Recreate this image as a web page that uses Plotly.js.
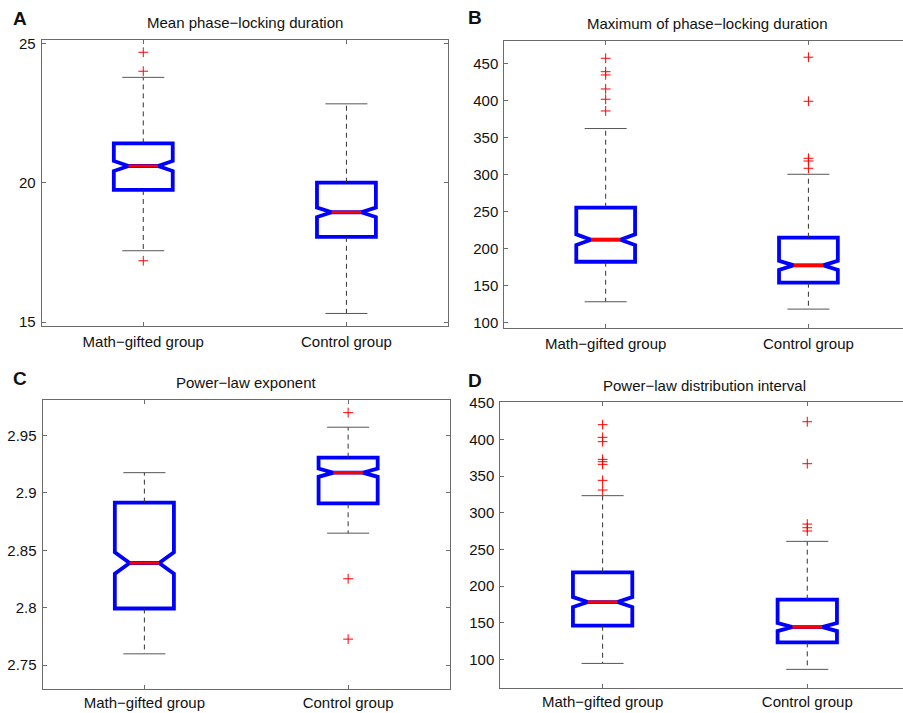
<!DOCTYPE html>
<html>
<head>
<meta charset="utf-8">
<script src="https://cdn.plot.ly/plotly-3.0.1.min.js"></script>
<style>
html, body { margin: 0; padding: 0; overflow: hidden; background: #fff; }
#chart { width: 912px; height: 713px; }
</style>
</head>
<body>
<div id="chart"></div>
<script>
// ---------- data ----------
const categories = ['Math\u2212gifted group', 'Control group'];

// A: Mean phase-locking duration
const meanTitle = 'Mean phase\u2212locking duration';
const meanLowerWhisker = [17.56, 15.31];
const meanQ1 = [19.74, 18.06];
const meanMedian = [20.60, 18.94];
const meanQ3 = [21.41, 20.00];
const meanUpperWhisker = [23.78, 22.83];
const meanNotch = [0.18, 0.17];
const meanOutliersMath = [24.68, 24.00, 17.20];
const meanOutliersControl = [];
const meanTicks = [15, 20, 25];

// B: Maximum of phase-locking duration
const maxTitle = 'Maximum of phase\u2212locking duration';
const maxLowerWhisker = [128.3, 118.4];
const maxQ1 = [182.3, 154.0];
const maxMedian = [212.0, 177.4];
const maxQ3 = [255.2, 214.7];
const maxUpperWhisker = [362.0, 300.3];
const maxNotch = [7.2, 6.0];
const maxOutliersMath = [456.8, 438.7, 434.3, 415.4, 401.5, 385.7];
const maxOutliersControl = [458.2, 398.8, 321.9, 318.2, 308.4];
const maxTicks = [100, 150, 200, 250, 300, 350, 400, 450];

// C: Power-law exponent
const expTitle = 'Power\u2212law exponent';
const expLowerWhisker = [2.7599, 2.8650];
const expQ1 = [2.7994, 2.8910];
const expMedian = [2.8390, 2.9177];
const expQ3 = [2.8916, 2.9308];
const expUpperWhisker = [2.9177, 2.9573];
const expNotch = [0.0093, 0.0036];
const expOutliersMath = [];
const expOutliersControl = [2.9700, 2.8253, 2.7727];
const expTicks = [2.75, 2.8, 2.85, 2.9, 2.95];
const expTickText = ['2.75', '2.8', '2.85', '2.9', '2.95'];

// D: Power-law distribution interval
const intTitle = 'Power\u2212law distribution interval';
const intLowerWhisker = [94.5, 86.4];
const intQ1 = [145.9, 123.2];
const intMedian = [178.2, 144.1];
const intQ3 = [218.6, 181.4];
const intUpperWhisker = [323.2, 260.9];
const intNotch = [6.8, 5.5];
const intOutliersMath = [420.0, 402.7, 396.8, 372.7, 369.5, 365.9, 344.1, 330.9];
const intOutliersControl = [424.0, 366.8, 284.5, 279.5, 275.0];
const intTicks = [100, 150, 200, 250, 300, 350, 400, 450];

// ---------- layout helpers ----------
const W = 912, H = 713;
const FONT = '"Liberation Sans", Arial, Helvetica, sans-serif';
const AX = '#6b6b6b';
const BOXW = 0.29;

function dom(px0, px1) { return [px0 / W, px1 / W]; }
function domY(top, bottom) { return [(H - bottom) / H, (H - top) / H]; }

const traces = [];
function panel(n, lw, q1, med, q3, uw, notch, outM, outC) {
  const xa = 'x' + (n === 1 ? '' : n), ya = 'y' + (n === 1 ? '' : n);
  // dashed whiskers
  const wx = [], wy = [];
  for (let i = 0; i < categories.length; i++) {
    wx.push(categories[i], categories[i], null, categories[i], categories[i], null);
    wy.push(q3[i], uw[i], null, q1[i], lw[i], null);
  }
  traces.push({type: 'scatter', mode: 'lines', x: wx, y: wy, xaxis: xa, yaxis: ya,
    line: {color: '#333', width: 1, dash: '5px,4px'}, hoverinfo: 'skip', connectgaps: false});
  // whisker caps
  traces.push({type: 'scatter', mode: 'markers', x: categories.concat(categories), y: uw.concat(lw),
    xaxis: xa, yaxis: ya, hoverinfo: 'skip',
    marker: {symbol: 'line-ew', size: 30, color: '#555', line: {color: '#555', width: 1}}});
  // blue notched boxes
  traces.push({type: 'box', x: categories, q1: q1, median: med, q3: q3,
    lowerfence: q1, upperfence: q3, notched: true, notchspan: notch, notchwidth: 0.25,
    width: BOXW, whiskerwidth: 0, boxpoints: false, xaxis: xa, yaxis: ya,
    line: {color: '#0000ff', width: 3.8}, fillcolor: 'rgba(255,255,255,0)', hoverinfo: 'skip'});
  // red medians
  traces.push({type: 'box', x: categories, q1: med, median: med, q3: med,
    lowerfence: med, upperfence: med, notched: false,
    width: BOXW * 0.5, whiskerwidth: 0, boxpoints: false, xaxis: xa, yaxis: ya,
    line: {color: '#ff0000', width: 3.2}, fillcolor: 'rgba(255,255,255,0)', hoverinfo: 'skip'});
  // outliers
  const ox = [], oy = [];
  outM.forEach(v => { ox.push(categories[0]); oy.push(v); });
  outC.forEach(v => { ox.push(categories[1]); oy.push(v); });
  traces.push({type: 'scatter', mode: 'markers', x: ox, y: oy, xaxis: xa, yaxis: ya, hoverinfo: 'skip',
    marker: {symbol: 'cross-thin-open', size: 7, color: '#ff0000', line: {color: '#ff0000', width: 1}}});
}

panel(1, meanLowerWhisker, meanQ1, meanMedian, meanQ3, meanUpperWhisker, meanNotch, meanOutliersMath, meanOutliersControl);
panel(2, maxLowerWhisker, maxQ1, maxMedian, maxQ3, maxUpperWhisker, maxNotch, maxOutliersMath, maxOutliersControl);
panel(3, expLowerWhisker, expQ1, expMedian, expQ3, expUpperWhisker, expNotch, expOutliersMath, expOutliersControl);
panel(4, intLowerWhisker, intQ1, intMedian, intQ3, intUpperWhisker, intNotch, intOutliersMath, intOutliersControl);

function xAxis(d, anchor, standoff) {
  return {domain: d, anchor: anchor, type: 'category', range: [-0.5, 1.5],
    ticks: 'inside', ticklen: 4, tickcolor: AX, tickwidth: 1,
    showline: true, linecolor: AX, linewidth: 1, mirror: 'ticks',
    showgrid: false, zeroline: false, ticklabelstandoff: standoff,
    tickfont: {family: FONT, size: 15, color: '#111'}, fixedrange: true};
}
function yAxis(d, anchor, range, tv, tt) {
  const a = {domain: d, anchor: anchor, range: range, tickmode: 'array', tickvals: tv,
    ticks: 'inside', ticklen: 4, tickcolor: AX, tickwidth: 1,
    showline: true, linecolor: AX, linewidth: 1, mirror: 'ticks',
    showgrid: false, zeroline: false, ticklabelstandoff: 2,
    tickfont: {family: FONT, size: 15, color: '#111'}, fixedrange: true};
  if (tt) a.ticktext = tt;
  return a;
}

const pA = {x0: 41.7, x1: 448, top: 40, bottom: 326};
const pB = {x0: 504.3, x1: 909.8, top: 41, bottom: 327.7};
const pC = {x0: 42.5, x1: 450, top: 400, bottom: 689.3};
const pD = {x0: 500.3, x1: 909.6, top: 402, bottom: 687.7};

function ann(text, xpx, ypx, size, bold) {
  return {text: bold ? '<b>' + text + '</b>' : text, xref: 'paper', yref: 'paper',
    x: xpx / W, y: 1 - ypx / H, xanchor: 'center', yanchor: 'middle', showarrow: false,
    font: {family: FONT, size: size, color: '#111'}};
}

const layout = {
  width: W, height: H, margin: {l: 0, r: 0, t: 0, b: 0, pad: 0},
  paper_bgcolor: '#fff', plot_bgcolor: '#fff', showlegend: false,
  boxmode: 'overlay', font: {family: FONT, size: 15, color: '#111'},
  xaxis: xAxis(dom(pA.x0, pA.x1), 'y', 2),
  yaxis: yAxis(domY(pA.top, pA.bottom), 'x', [14.86, 25.12], meanTicks),
  xaxis2: xAxis(dom(pB.x0, pB.x1), 'y2', 2),
  yaxis2: yAxis(domY(pB.top, pB.bottom), 'x2', [93.3, 480.1], maxTicks),
  xaxis3: xAxis(dom(pC.x0, pC.x1), 'y3', 0),
  yaxis3: yAxis(domY(pC.top, pC.bottom), 'x3', [2.729, 2.981], expTicks, expTickText),
  xaxis4: xAxis(dom(pD.x0, pD.x1), 'y4', 0),
  yaxis4: yAxis(domY(pD.top, pD.bottom), 'x4', [61.4, 450.9], intTicks),
  annotations: [
    ann(meanTitle, (pA.x0 + pA.x1) / 2, 22.5, 15, false),
    ann(maxTitle, (pB.x0 + pB.x1) / 2, 23.3, 15, false),
    ann(expTitle, (pC.x0 + pC.x1) / 2, 382.5, 15, false),
    ann(intTitle, (pD.x0 + pD.x1) / 2, 385, 15, false),
    ann('A', 20, 18.5, 19, true),
    ann('B', 474.7, 17.5, 19, true),
    ann('C', 20, 379, 19, true),
    ann('D', 475, 380, 19, true)
  ]
};

Plotly.newPlot('chart', traces, layout, {staticPlot: true, displayModeBar: false});
</script>
</body>
</html>
